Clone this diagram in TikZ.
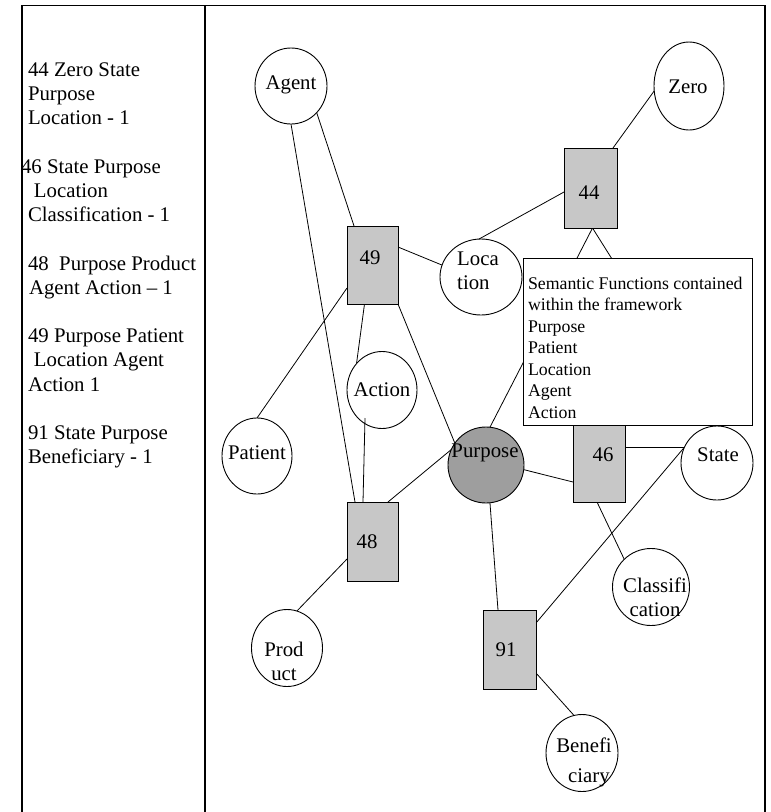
\documentclass[tikz,border=0pt]{standalone}
\usepackage{fontspec}
\setmainfont{Liberation Serif}
\usetikzlibrary{calc,shapes.geometric,backgrounds}
\begin{document}
\begin{tikzpicture}[x=1pt,y=-1pt,
  every node/.style={inner sep=0pt, outer sep=0pt},
  lbl/.style={font=\fontsize{20.8}{24}\selectfont},
  side/.style={font=\fontsize{20.8}{24}\selectfont, anchor=base west},
  ell/.style={draw, ellipse, line width=0.9pt, fill=white},
  fbox/.style={draw, rectangle, line width=0.9pt, fill=black!22},
  conn/.style={line width=0.8pt},
  frameline/.style={line width=1.2pt},
]
\useasboundingbox (0,0) rectangle (771,812);
% frame
\draw[frameline] (22,812) -- (22,5.5) -- (765,5.5) -- (765,812);
\draw[frameline] (205,5.5) -- (205,812);
% left column text
\node[side] (l1) at (28,76.5) {44 Zero State};
\node[side] (l2) at (28,100.7) {Purpose};
\node[side] (l3) at (28,124.9) {Location - 1};
\node[side] (l4) at (21,173.3) {46 State Purpose};
\node[side] (l5) at (34,197.5) {Location};
\node[side] (l6) at (28,221.7) {Classification - 1};
\node[side] (l7) at (28,270.1) {48\ \ Purpose Product};
\node[side] (l8) at (29,294.3) {Agent Action – 1};
\node[side] (l9) at (28,342.7) {49 Purpose Patient};
\node[side] (l10) at (34,366.9) {Location Agent};
\node[side] (l11) at (28,391.1) {Action 1};
\node[side] (l12) at (28,439.5) {91 State Purpose};
\node[side] (l13) at (28,463.7) {Beneficiary - 1};
% ellipses
\node[ell, minimum width=72, minimum height=76] (agent) at (291,86) {};
\node[ell, minimum width=70, minimum height=88] (zero) at (689,86) {};
\node[ell, minimum width=82, minimum height=76] (loc) at (481,277) {};
\node[ell, minimum width=70, minimum height=77] (action) at (382,390) {};
\node[ell, minimum width=70, minimum height=76] (patient) at (257,456) {};
\node[ell, minimum width=76, minimum height=76, fill=black!38] (purpose) at (486,465) {};
\node[ell, minimum width=72, minimum height=74] (state) at (717,463) {};
\node[ell, minimum width=71, minimum height=77] (product) at (287,648) {};
\node[ell, minimum width=77, minimum height=77] (classif) at (651,587) {};
\node[ell, minimum width=72, minimum height=77] (benef) at (582,753) {};
% boxes
\node[fbox, minimum width=53, minimum height=80] (b44) at (590.5,188) {};
\node[fbox, minimum width=51, minimum height=78] (b49) at (372.5,265) {};
\node[fbox, minimum width=51, minimum height=79] (b48) at (372.5,541.5) {};
\node[fbox, minimum width=53, minimum height=79] (b91) at (509.5,649.5) {};
\node[fbox, minimum width=52, minimum height=90] (b46) at (599,457) {};
% connectors (behind shapes)
\begin{scope}[on background layer]
\draw[conn] (agent.-46) -- ($(b49.north west)+(7,0)$);
\draw[conn] (agent.south) -- ($(b48.north west)+(8,0)$);
\draw[conn] ($(b49.north east)+(0,21)$) -- (loc.163);
\draw[conn] ($(b49.south west)+(0,-16)$) -- (patient.north);
\draw[conn] ($(b49.south)+(-8,0)$) -- (action.134);
\draw[conn] (b49.south east) -- (purpose.145);
\draw[conn] (purpose.156) -- ($(b48.north east)+(-10,0)$);
\draw[conn] ($(b48.south west)+(0,-22)$) -- (product.75);
\draw[conn] (purpose.-84) -- ($(b91.north west)+(15,0)$);
\draw[conn] (purpose.-7) -- ($(b46.south west)+(0,-20)$);
\draw[conn] ($(b44.south)+(2,0)$) -- (purpose.84);
\draw[conn] ($(b44.south)+(2,0)$) -- (state.north);
\draw[conn] ($(b44.west)+(0,4)$) -- (loc.93);
\draw[conn] (zero.188) -- ($(b44.north east)+(-4,0)$);
\draw[conn] (state.154 -| b46.east) -- (state.154);
\draw[conn] ($(b91.north east)+(0,13)$) -- (state.154);
\draw[conn] ($(b46.south)+(-2,0)$) -- (classif.134);
\draw[conn] ($(b91.south east)+(0,-16)$) -- (benef.102);
\end{scope}
\coordinate (actlow) at ($(action.center)+(-17,28)$);
\draw[conn] (actlow) -- ($(b48.north)+(-9.5,0)$);
% labels
\node[lbl] (agentT) at (291,85) {Agent};
\node[lbl] (zeroT) at (688,87) {Zero};
\node[lbl] (actionT) at (382,390) {Action};
\node[lbl] (patientT) at (257,453) {Patient};
\node[lbl] (purposeT) at (485,453) {Purpose};
\node[lbl] (stateT) at (718,455) {State};
\node[lbl, align=left] (locT) at (478,271) {Loca\\tion};
\node[lbl, align=center] (productT) at (284,661) {Prod\\uct};
\node[lbl, align=center] (classifT) at (655,597) {Classifi\\cation};
\node[align=center, font=\fontsize{20.8}{30}\selectfont] (benefT) at (584,762) {Benefi\\\hspace*{10pt}ciary};
\node[lbl] (t44) at (589,193) {44};
\node[lbl] (t49) at (370,258) {49};
\node[lbl] (t48) at (367,542) {48};
\node[lbl] (t91) at (506,650) {91};
\node[lbl] (t46) at (603,455) {46};
% semantic functions box
\node[draw, fill=white, line width=0.9pt, minimum width=229, minimum height=167, anchor=north west] (sem) at (523,258) {};
\node[font=\fontsize{17.8}{21.5}\selectfont, align=left, anchor=north west] (semT) at (528,277) {Semantic Functions contained\\within the framework\\Purpose\\Patient\\Location\\Agent\\Action};
\end{tikzpicture}
\end{document}
